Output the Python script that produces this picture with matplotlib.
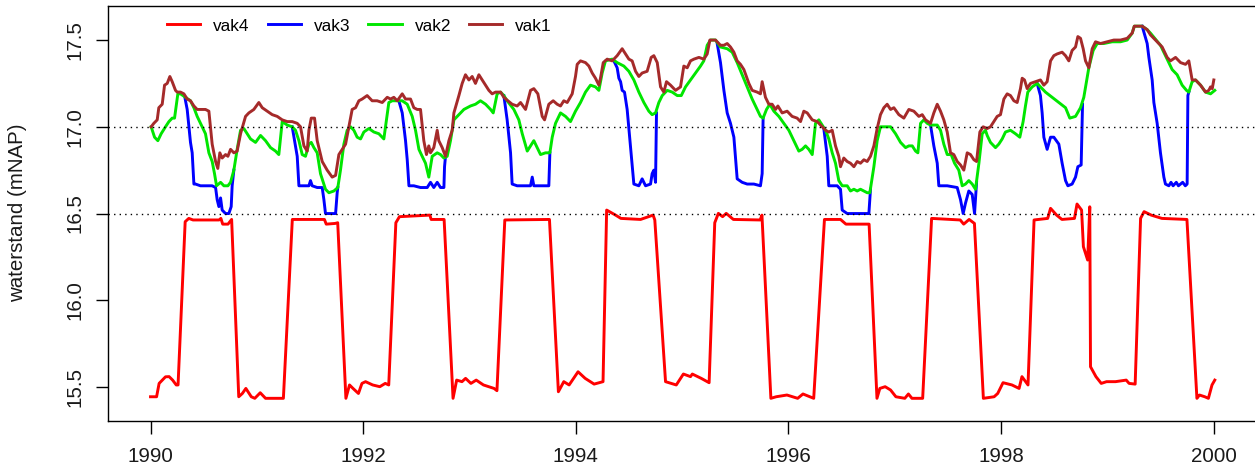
import numpy as np
import matplotlib
matplotlib.use("Agg")
import matplotlib.pyplot as plt

plt.rcParams['font.family'] = ['Liberation Sans', 'DejaVu Sans']

# Water level per compartment (decimal year, level in m NAP)
vak1_points = [
    (1990.006, 17.00), (1990.031, 17.02), (1990.063, 17.04), (1990.078, 17.11), (1990.110, 17.13),
    (1990.132, 17.24), (1990.157, 17.25), (1990.182, 17.29), (1990.204, 17.26), (1990.235, 17.21),
    (1990.251, 17.20), (1990.282, 17.20), (1990.314, 17.19), (1990.345, 17.16), (1990.376, 17.15),
    (1990.408, 17.12), (1990.439, 17.10), (1990.486, 17.10), (1990.517, 17.10), (1990.549, 17.09),
    (1990.580, 16.90), (1990.612, 16.80), (1990.633, 16.76), (1990.652, 16.85), (1990.674, 16.82),
    (1990.706, 16.84), (1990.728, 16.83), (1990.753, 16.87), (1990.784, 16.85), (1990.815, 16.86),
    (1990.847, 16.96), (1990.894, 17.06), (1990.925, 17.08), (1990.972, 17.10), (1991.019, 17.14),
    (1991.051, 17.11), (1991.098, 17.09), (1991.145, 17.07), (1991.192, 17.06), (1991.239, 17.04),
    (1991.286, 17.03), (1991.333, 17.03), (1991.380, 17.02), (1991.411, 17.00), (1991.443, 16.89),
    (1991.474, 16.86), (1991.490, 16.98), (1991.512, 17.05), (1991.543, 17.05), (1991.568, 16.92),
    (1991.615, 16.80), (1991.662, 16.75), (1991.709, 16.71), (1991.741, 16.72), (1991.772, 16.84),
    (1991.803, 16.87), (1991.835, 16.90), (1991.866, 17.00), (1991.897, 17.10), (1991.929, 17.11),
    (1991.960, 17.15), (1991.991, 17.16), (1992.038, 17.18), (1992.085, 17.15), (1992.132, 17.15),
    (1992.180, 17.14), (1992.227, 17.17), (1992.258, 17.16), (1992.289, 17.17), (1992.321, 17.15),
    (1992.368, 17.19), (1992.399, 17.16), (1992.446, 17.16), (1992.477, 17.11), (1992.509, 17.10),
    (1992.540, 17.10), (1992.571, 16.92), (1992.596, 16.84), (1992.618, 16.89), (1992.634, 16.85),
    (1992.665, 16.88), (1992.697, 16.98), (1992.712, 16.92), (1992.744, 16.88), (1992.775, 16.83),
    (1992.807, 16.92), (1992.838, 16.98), (1992.854, 17.08), (1992.901, 17.18), (1992.932, 17.25),
    (1992.963, 17.30), (1992.995, 17.27), (1993.026, 17.29), (1993.057, 17.25), (1993.089, 17.30),
    (1993.120, 17.27), (1993.152, 17.24), (1993.183, 17.21), (1993.214, 17.19), (1993.246, 17.20),
    (1993.293, 17.20), (1993.324, 17.17), (1993.362, 17.15), (1993.402, 17.13), (1993.449, 17.12),
    (1993.481, 17.14), (1993.528, 17.10), (1993.575, 17.21), (1993.606, 17.22), (1993.644, 17.19),
    (1993.685, 17.06), (1993.707, 17.04), (1993.747, 17.13), (1993.788, 17.15), (1993.826, 17.13),
    (1993.857, 17.12), (1993.888, 17.15), (1993.920, 17.14), (1993.967, 17.19), (1993.998, 17.29),
    (1994.014, 17.36), (1994.045, 17.38), (1994.092, 17.37), (1994.124, 17.35), (1994.155, 17.31),
    (1994.186, 17.28), (1994.218, 17.24), (1994.233, 17.28), (1994.259, 17.37), (1994.296, 17.39),
    (1994.343, 17.38), (1994.390, 17.41), (1994.437, 17.45), (1994.469, 17.42), (1994.500, 17.39),
    (1994.531, 17.38), (1994.563, 17.32), (1994.594, 17.29), (1994.625, 17.31), (1994.672, 17.32),
    (1994.710, 17.40), (1994.735, 17.41), (1994.767, 17.37), (1994.798, 17.23), (1994.829, 17.20),
    (1994.854, 17.26), (1994.892, 17.24), (1994.939, 17.21), (1994.986, 17.23), (1995.017, 17.35),
    (1995.049, 17.34), (1995.080, 17.38), (1995.112, 17.39), (1995.159, 17.40), (1995.206, 17.39),
    (1995.237, 17.42), (1995.262, 17.50), (1995.315, 17.50), (1995.362, 17.47), (1995.394, 17.47),
    (1995.425, 17.48), (1995.456, 17.46), (1995.488, 17.43), (1995.519, 17.38), (1995.550, 17.36),
    (1995.582, 17.33), (1995.629, 17.25), (1995.660, 17.21), (1995.707, 17.20), (1995.738, 17.19),
    (1995.754, 17.26), (1995.785, 17.17), (1995.817, 17.13), (1995.848, 17.13), (1995.880, 17.10),
    (1995.902, 17.12), (1995.942, 17.08), (1995.989, 17.09), (1996.036, 17.06), (1996.083, 17.05),
    (1996.115, 17.03), (1996.146, 17.09), (1996.178, 17.08), (1996.225, 17.04), (1996.272, 17.03),
    (1996.303, 17.01), (1996.350, 16.98), (1996.381, 16.97), (1996.413, 16.98), (1996.444, 16.89),
    (1996.475, 16.83), (1996.491, 16.77), (1996.522, 16.82), (1996.554, 16.80), (1996.585, 16.79),
    (1996.617, 16.77), (1996.648, 16.80), (1996.679, 16.79), (1996.711, 16.81), (1996.742, 16.80),
    (1996.773, 16.83), (1996.805, 16.89), (1996.836, 16.99), (1996.867, 17.07), (1996.899, 17.11),
    (1996.930, 17.13), (1996.962, 17.10), (1996.993, 17.11), (1997.040, 17.07), (1997.087, 17.05),
    (1997.134, 17.10), (1997.181, 17.09), (1997.228, 17.06), (1997.260, 17.07), (1997.291, 17.04),
    (1997.338, 17.02), (1997.369, 17.08), (1997.401, 17.13), (1997.432, 17.09), (1997.463, 17.04),
    (1997.495, 16.97), (1997.526, 16.85), (1997.557, 16.84), (1997.589, 16.80), (1997.620, 16.78),
    (1997.651, 16.75), (1997.683, 16.85), (1997.714, 16.84), (1997.746, 16.81), (1997.771, 16.80),
    (1997.802, 16.97), (1997.833, 17.00), (1997.871, 16.99), (1997.902, 17.00), (1997.933, 17.03),
    (1997.965, 17.06), (1997.996, 17.07), (1998.028, 17.16), (1998.059, 17.19), (1998.090, 17.18),
    (1998.122, 17.15), (1998.153, 17.14), (1998.184, 17.22), (1998.200, 17.28), (1998.222, 17.27),
    (1998.247, 17.22), (1998.278, 17.25), (1998.325, 17.26), (1998.372, 17.27), (1998.404, 17.24),
    (1998.435, 17.26), (1998.467, 17.38), (1998.498, 17.41), (1998.529, 17.42), (1998.576, 17.43),
    (1998.608, 17.41), (1998.639, 17.38), (1998.670, 17.44), (1998.702, 17.46), (1998.724, 17.52),
    (1998.749, 17.51), (1998.774, 17.45), (1998.796, 17.38), (1998.827, 17.34), (1998.859, 17.45),
    (1998.890, 17.49), (1998.937, 17.48), (1998.999, 17.49), (1999.062, 17.50), (1999.125, 17.50),
    (1999.188, 17.51), (1999.235, 17.54), (1999.255, 17.58), (1999.329, 17.58), (1999.376, 17.56),
    (1999.407, 17.53), (1999.470, 17.49), (1999.517, 17.46), (1999.564, 17.40), (1999.595, 17.38),
    (1999.643, 17.40), (1999.690, 17.37), (1999.737, 17.36), (1999.768, 17.38), (1999.799, 17.27),
    (1999.831, 17.27), (1999.878, 17.24), (1999.925, 17.20), (1999.956, 17.21), (1999.972, 17.23),
    (1999.988, 17.22), (2000.003, 17.27),
]

vak2_points = [
    (1990.006, 17.00), (1990.038, 16.94), (1990.069, 16.92), (1990.100, 16.96), (1990.141, 17.00),
    (1990.173, 17.03), (1990.204, 17.05), (1990.226, 17.05), (1990.257, 17.19), (1990.282, 17.19),
    (1990.329, 17.17), (1990.376, 17.15), (1990.408, 17.11), (1990.439, 17.06), (1990.470, 17.02),
    (1990.517, 16.96), (1990.549, 16.85), (1990.580, 16.80), (1990.602, 16.73), (1990.621, 16.66),
    (1990.659, 16.68), (1990.690, 16.66), (1990.728, 16.66), (1990.753, 16.68), (1990.784, 16.75),
    (1990.815, 16.87), (1990.847, 16.98), (1990.878, 16.99), (1990.909, 16.96), (1990.941, 16.93),
    (1990.988, 16.91), (1991.035, 16.95), (1991.082, 16.92), (1991.129, 16.88), (1991.176, 16.86),
    (1991.207, 16.84), (1991.239, 17.03), (1991.286, 17.01), (1991.333, 17.00), (1991.364, 16.98),
    (1991.396, 16.92), (1991.427, 16.84), (1991.458, 16.83), (1991.490, 16.90), (1991.512, 16.91),
    (1991.537, 16.88), (1991.568, 16.85), (1991.599, 16.73), (1991.646, 16.64), (1991.678, 16.62),
    (1991.725, 16.63), (1991.762, 16.65), (1991.787, 16.75), (1991.819, 16.90), (1991.850, 16.98),
    (1991.882, 17.00), (1991.913, 16.98), (1991.944, 16.94), (1991.976, 16.93), (1992.007, 16.97),
    (1992.054, 16.99), (1992.101, 16.97), (1992.148, 16.96), (1992.195, 16.93), (1992.242, 17.14),
    (1992.274, 17.15), (1992.321, 17.15), (1992.368, 17.15), (1992.415, 17.13), (1992.462, 17.06),
    (1992.493, 16.98), (1992.525, 16.87), (1992.540, 16.85), (1992.587, 16.79), (1992.618, 16.71),
    (1992.650, 16.83), (1992.697, 16.85), (1992.728, 16.84), (1992.760, 16.82), (1992.791, 16.83),
    (1992.822, 16.92), (1992.854, 17.04), (1992.901, 17.07), (1992.948, 17.10), (1993.010, 17.12),
    (1993.057, 17.13), (1993.104, 17.15), (1993.152, 17.13), (1993.199, 17.10), (1993.224, 17.08),
    (1993.261, 17.19), (1993.293, 17.20), (1993.324, 17.18), (1993.355, 17.15), (1993.418, 17.10),
    (1993.465, 17.04), (1993.497, 16.96), (1993.544, 16.86), (1993.575, 16.89), (1993.606, 16.92),
    (1993.638, 16.88), (1993.669, 16.84), (1993.716, 16.85), (1993.757, 16.85), (1993.779, 16.94),
    (1993.810, 17.02), (1993.857, 17.08), (1993.904, 17.06), (1993.951, 17.03), (1993.998, 17.09),
    (1994.045, 17.14), (1994.092, 17.20), (1994.139, 17.24), (1994.186, 17.23), (1994.218, 17.21),
    (1994.249, 17.31), (1994.280, 17.38), (1994.343, 17.39), (1994.390, 17.37), (1994.453, 17.35),
    (1994.500, 17.32), (1994.547, 17.27), (1994.594, 17.20), (1994.641, 17.14), (1994.688, 17.09),
    (1994.719, 17.07), (1994.751, 17.08), (1994.782, 17.14), (1994.814, 17.18), (1994.861, 17.21),
    (1994.908, 17.20), (1994.955, 17.18), (1994.993, 17.18), (1995.033, 17.23), (1995.080, 17.27),
    (1995.127, 17.31), (1995.174, 17.35), (1995.205, 17.38), (1995.237, 17.47), (1995.268, 17.50),
    (1995.315, 17.50), (1995.362, 17.46), (1995.425, 17.45), (1995.472, 17.43), (1995.519, 17.37),
    (1995.566, 17.30), (1995.613, 17.23), (1995.660, 17.16), (1995.707, 17.10), (1995.738, 17.06),
    (1995.763, 17.05), (1995.795, 17.10), (1995.826, 17.13), (1995.864, 17.09), (1995.911, 17.06),
    (1995.958, 17.02), (1996.005, 16.98), (1996.052, 16.92), (1996.099, 16.86), (1996.130, 16.87),
    (1996.162, 16.89), (1996.193, 16.87), (1996.225, 16.84), (1996.256, 17.02), (1996.287, 17.04),
    (1996.319, 17.01), (1996.350, 16.98), (1996.381, 16.93), (1996.413, 16.85), (1996.444, 16.79),
    (1996.475, 16.69), (1996.507, 16.66), (1996.554, 16.66), (1996.585, 16.63), (1996.617, 16.64),
    (1996.648, 16.63), (1996.679, 16.64), (1996.711, 16.63), (1996.742, 16.62), (1996.767, 16.62),
    (1996.805, 16.77), (1996.836, 16.92), (1996.867, 17.00), (1996.914, 17.00), (1996.962, 17.00),
    (1997.009, 16.96), (1997.056, 16.91), (1997.103, 16.88), (1997.134, 16.89), (1997.166, 16.89),
    (1997.197, 16.86), (1997.219, 16.85), (1997.244, 17.02), (1997.275, 17.04), (1997.307, 17.02),
    (1997.338, 17.01), (1997.401, 17.01), (1997.432, 16.98), (1997.463, 16.90), (1997.495, 16.84),
    (1997.532, 16.84), (1997.564, 16.79), (1997.604, 16.75), (1997.636, 16.66), (1997.667, 16.67),
    (1997.698, 16.69), (1997.730, 16.67), (1997.761, 16.64), (1997.793, 16.79), (1997.824, 16.96),
    (1997.855, 16.98), (1997.871, 16.95), (1997.902, 16.91), (1997.949, 16.88), (1997.980, 16.90),
    (1998.012, 16.93), (1998.043, 16.97), (1998.090, 16.98), (1998.137, 16.96), (1998.178, 16.94),
    (1998.209, 17.03), (1998.231, 17.12), (1998.253, 17.20), (1998.294, 17.23), (1998.341, 17.25),
    (1998.372, 17.23), (1998.419, 17.20), (1998.482, 17.17), (1998.545, 17.14), (1998.608, 17.11),
    (1998.648, 17.05), (1998.702, 17.06), (1998.749, 17.11), (1998.780, 17.17), (1998.827, 17.34),
    (1998.868, 17.44), (1998.906, 17.48), (1998.968, 17.48), (1999.047, 17.49), (1999.125, 17.49),
    (1999.188, 17.50), (1999.235, 17.54), (1999.255, 17.58), (1999.329, 17.58), (1999.376, 17.56),
    (1999.407, 17.54), (1999.501, 17.47), (1999.564, 17.39), (1999.611, 17.33), (1999.658, 17.30),
    (1999.705, 17.24), (1999.746, 17.21), (1999.768, 17.20), (1999.799, 17.26), (1999.831, 17.27),
    (1999.878, 17.24), (1999.925, 17.20), (1999.972, 17.19), (2000.012, 17.21),
]

# vak3 follows vak2 except during the yearly drawdowns; outside these
# episodes its trace lies underneath vak2.
vak3_episodes = [
    [(1990.323, 17.17), (1990.345, 17.10), (1990.376, 16.91), (1990.392, 16.85), (1990.408, 16.67),
     (1990.423, 16.67), (1990.470, 16.66), (1990.533, 16.66), (1990.580, 16.66), (1990.612, 16.65),
     (1990.627, 16.58), (1990.643, 16.54), (1990.659, 16.59), (1990.674, 16.52), (1990.706, 16.50),
     (1990.737, 16.50), (1990.759, 16.54), (1990.768, 16.66), (1990.784, 16.75)],
    [(1991.333, 17.00), (1991.355, 16.92), (1991.380, 16.83), (1991.396, 16.66), (1991.443, 16.66),
     (1991.490, 16.66), (1991.505, 16.69), (1991.521, 16.66), (1991.568, 16.65), (1991.615, 16.65),
     (1991.631, 16.58), (1991.646, 16.50), (1991.741, 16.50), (1991.756, 16.62), (1991.762, 16.65)],
    [(1992.336, 17.15), (1992.368, 17.08), (1992.399, 16.92), (1992.415, 16.81), (1992.431, 16.66),
     (1992.477, 16.66), (1992.540, 16.65), (1992.603, 16.65), (1992.634, 16.68), (1992.665, 16.65),
     (1992.697, 16.68), (1992.728, 16.65), (1992.760, 16.65), (1992.766, 16.77), (1992.775, 16.83)],
    [(1993.324, 17.18), (1993.355, 17.04), (1993.387, 16.85), (1993.402, 16.67), (1993.449, 16.66),
     (1993.512, 16.66), (1993.575, 16.66), (1993.591, 16.71), (1993.606, 16.66), (1993.669, 16.66),
     (1993.747, 16.66), (1993.757, 16.85)],
    [(1994.359, 17.38), (1994.390, 17.34), (1994.406, 17.28), (1994.422, 17.26), (1994.437, 17.21),
     (1994.459, 17.20), (1994.484, 17.10), (1994.516, 16.88), (1994.547, 16.67), (1994.594, 16.66),
     (1994.625, 16.70), (1994.657, 16.66), (1994.704, 16.67), (1994.719, 16.73), (1994.735, 16.75),
     (1994.751, 16.68), (1994.760, 17.08)],
    [(1995.331, 17.48), (1995.362, 17.37), (1995.394, 17.21), (1995.425, 17.08), (1995.456, 17.02),
     (1995.488, 16.94), (1995.519, 16.70), (1995.566, 16.68), (1995.613, 16.67), (1995.676, 16.67),
     (1995.738, 16.66), (1995.754, 16.73), (1995.763, 17.05)],
    [(1996.334, 16.99), (1996.366, 16.83), (1996.381, 16.66), (1996.460, 16.66), (1996.491, 16.64),
     (1996.507, 16.52), (1996.554, 16.50), (1996.679, 16.50), (1996.758, 16.50), (1996.773, 16.64)],
    [(1997.338, 17.01), (1997.369, 16.89), (1997.401, 16.79), (1997.416, 16.66), (1997.495, 16.66),
     (1997.589, 16.65), (1997.620, 16.58), (1997.645, 16.50), (1997.667, 16.56), (1997.698, 16.63),
     (1997.730, 16.61), (1997.752, 16.50), (1997.771, 16.68)],
    [(1998.341, 17.25), (1998.372, 17.18), (1998.388, 17.08), (1998.404, 16.94), (1998.435, 16.87),
     (1998.467, 16.94), (1998.498, 16.94), (1998.545, 16.90), (1998.576, 16.79), (1998.608, 16.69),
     (1998.630, 16.66), (1998.670, 16.67), (1998.702, 16.71), (1998.724, 16.77), (1998.755, 16.78),
     (1998.768, 17.13)],
    [(1999.329, 17.58), (1999.376, 17.48), (1999.392, 17.40), (1999.423, 17.27), (1999.439, 17.14),
     (1999.470, 17.02), (1999.501, 16.85), (1999.533, 16.71), (1999.548, 16.67), (1999.580, 16.66),
     (1999.600, 16.68), (1999.620, 16.66), (1999.650, 16.68), (1999.670, 16.66), (1999.690, 16.67),
     (1999.710, 16.68), (1999.735, 16.66), (1999.752, 16.67), (1999.759, 17.18), (1999.768, 17.20)],
]

vak4_points = [
    (1990.000, 15.444), (1990.057, 15.444), (1990.081, 15.521), (1990.141, 15.559), (1990.175, 15.560),
    (1990.208, 15.540), (1990.242, 15.512), (1990.259, 15.512), (1990.326, 16.453), (1990.360, 16.472),
    (1990.400, 16.463), (1990.645, 16.463), (1990.662, 16.472), (1990.679, 16.439), (1990.729, 16.439),
    (1990.763, 16.466), (1990.830, 15.444), (1990.864, 15.463), (1990.897, 15.492), (1990.948, 15.444),
    (1990.981, 15.435), (1991.032, 15.467), (1991.082, 15.435), (1991.250, 15.435), (1991.334, 16.466),
    (1991.636, 16.466), (1991.653, 16.439), (1991.737, 16.443), (1991.761, 16.447), (1991.838, 15.435),
    (1991.872, 15.512), (1991.905, 15.492), (1991.956, 15.463), (1991.989, 15.521), (1992.023, 15.531),
    (1992.090, 15.512), (1992.157, 15.502), (1992.208, 15.521), (1992.241, 15.512), (1992.308, 16.447),
    (1992.342, 16.482), (1992.628, 16.491), (1992.640, 16.466), (1992.762, 16.466), (1992.846, 15.435),
    (1992.880, 15.540), (1992.930, 15.531), (1992.964, 15.550), (1993.014, 15.521), (1993.064, 15.540),
    (1993.132, 15.512), (1993.232, 15.492), (1993.259, 15.479), (1993.333, 16.463), (1993.753, 16.466),
    (1993.837, 15.473), (1993.888, 15.531), (1993.938, 15.512), (1994.022, 15.588), (1994.089, 15.550),
    (1994.173, 15.517), (1994.257, 15.531), (1994.291, 16.520), (1994.375, 16.491), (1994.425, 16.472),
    (1994.610, 16.466), (1994.728, 16.491), (1994.744, 16.463), (1994.845, 15.531), (1994.946, 15.512),
    (1995.013, 15.575), (1995.080, 15.560), (1995.097, 15.575), (1995.181, 15.550), (1995.255, 15.525),
    (1995.308, 16.447), (1995.342, 16.501), (1995.382, 16.482), (1995.416, 16.501), (1995.483, 16.466),
    (1995.735, 16.463), (1995.752, 16.491), (1995.836, 15.435), (1995.886, 15.444), (1995.987, 15.454),
    (1996.088, 15.435), (1996.138, 15.460), (1996.239, 15.435), (1996.340, 16.466), (1996.491, 16.466),
    (1996.542, 16.439), (1996.760, 16.439), (1996.834, 15.435), (1996.861, 15.492), (1996.911, 15.502),
    (1996.962, 15.483), (1997.012, 15.444), (1997.096, 15.435), (1997.130, 15.460), (1997.163, 15.435),
    (1997.264, 15.435), (1997.348, 16.472), (1997.617, 16.463), (1997.650, 16.439), (1997.701, 16.466),
    (1997.751, 16.443), (1997.835, 15.435), (1997.936, 15.444), (1997.970, 15.463), (1998.020, 15.525),
    (1998.104, 15.512), (1998.171, 15.492), (1998.198, 15.560), (1998.255, 15.512), (1998.312, 16.463),
    (1998.440, 16.472), (1998.467, 16.530), (1998.524, 16.491), (1998.574, 16.466), (1998.692, 16.472),
    (1998.716, 16.555), (1998.759, 16.520), (1998.776, 16.309), (1998.816, 16.232), (1998.836, 16.539),
    (1998.843, 15.617), (1998.894, 15.560), (1998.944, 15.521), (1998.994, 15.531), (1999.078, 15.531),
    (1999.179, 15.540), (1999.206, 15.521), (1999.263, 15.517), (1999.314, 16.472), (1999.347, 16.511),
    (1999.414, 16.491), (1999.515, 16.472), (1999.750, 16.466), (1999.844, 15.435), (1999.868, 15.454),
    (1999.918, 15.444), (1999.952, 15.435), (1999.986, 15.512), (2000.012, 15.540),
]

series_names = ["vak4", "vak3", "vak2", "vak1"]
series_colors = ["#FF0000", "#0000FF", "#00E600", "#A52A2A"]
reference_levels = [16.5, 17.0]
year_ticks = [1990, 1992, 1994, 1996, 1998, 2000]
level_ticks = [15.5, 16.0, 16.5, 17.0, 17.5]
level_tick_labels = ["15.5", "16.0", "16.5", "17.0", "17.5"]


def unpack(points):
    t, v = zip(*points)
    return np.array(t), np.array(v)


def join_episodes(episodes):
    ts, vs = [], []
    for ep in episodes:
        t, v = unpack(ep)
        ts.extend(t.tolist() + [np.nan])
        vs.extend(v.tolist() + [np.nan])
    return np.array(ts), np.array(vs)


W, H = 1255, 475
fig = plt.figure(figsize=(W / 100, H / 100), dpi=100)
# plot frame: left edge at 108 px, right edge just beyond the image border
ax = fig.add_axes([108 / W, 1 - 420.7 / H, (1257 - 108) / W, (420.7 - 5.7) / H])
ax.set_xlim(1989.6, 1990 + (1257 - 150.5) / 106.3)
ax.set_ylim(15.306, 17.698)

lw = 2.1
t4, v4 = unpack(vak4_points)
t3, v3 = join_episodes(vak3_episodes)
t2, v2 = unpack(vak2_points)
t1, v1 = unpack(vak1_points)
lines = []
for (t, v), name, col in zip([(t4, v4), (t3, v3), (t2, v2), (t1, v1)], series_names, series_colors):
    ln, = ax.plot(t, v, color=col, lw=lw, label=name, solid_joinstyle='round')
    lines.append(ln)

for lev in reference_levels:
    ax.axhline(lev, color='black', lw=1.0, linestyle=(0, (1, 3)), zorder=3)

ax.set_xticks(year_ticks)
ax.set_xticklabels([str(y) for y in year_ticks])
ax.set_yticks(level_ticks)
ax.set_yticklabels(level_tick_labels)
ax.tick_params(direction='out', length=9, width=1.0, labelsize=14.8, color='black', labelcolor='#1a1a1a')
ax.tick_params(axis='x', pad=10)
ax.tick_params(axis='y', pad=8)
for lab in ax.get_yticklabels():
    lab.set_rotation(90)
    lab.set_va('center')
for sp in ax.spines.values():
    sp.set_linewidth(1.0)
    sp.set_color('black')

fig.text(18 / W, 1 - 213 / H, "waterstand (mNAP)", rotation=90, ha='center', va='center',
         fontsize=14.8, color='#1a1a1a')

ax.legend(handles=lines, loc='center left', bbox_to_anchor=(167 / W, 1 - 26 / H),
          bbox_transform=fig.transFigure, ncol=4, frameon=False, fontsize=12.4,
          handlelength=1.92, handletextpad=0.76, columnspacing=1.05,
          borderpad=0, borderaxespad=0)

fig.savefig("out.png", dpi=100)
